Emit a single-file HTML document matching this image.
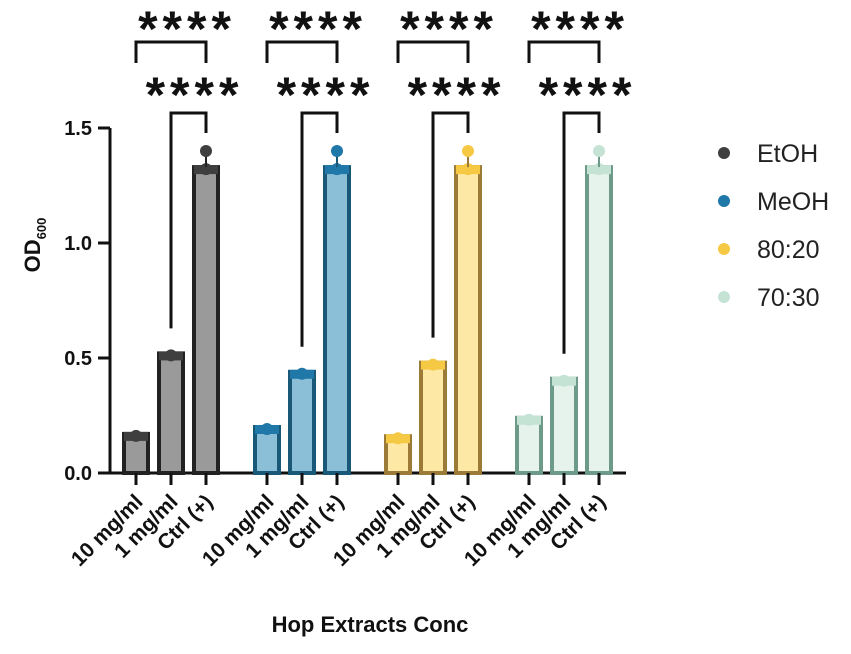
<!DOCTYPE html>
<html><head><meta charset="utf-8"><style>
body{margin:0;background:#fff;}
svg text{font-family:"Liberation Sans",Arial,sans-serif;}
</style></head><body>
<svg id="chart" width="851" height="649" viewBox="0 0 851 649" xmlns="http://www.w3.org/2000/svg"></svg>
<script>
const groups = ["EtOH","MeOH","80:20","70:30"];
const categories = ["10 mg/ml","1 mg/ml","Ctrl (+)"];
const etohValues = [0.17, 0.52, 1.33];
const meohValues = [0.20, 0.44, 1.33];
const v8020Values = [0.16, 0.48, 1.33];
const v7030Values = [0.24, 0.41, 1.33];
const ctrlPointTop = [1.40, 1.40, 1.40, 1.40];
const yTicks = [0, 0.5, 1.0, 1.5];
const yTickLabels = ["0.0","0.5","1.0","1.5"];
const sigLabels = ["****","****"];

const series = [etohValues, meohValues, v8020Values, v7030Values];
const styles = [
  {dot:"#3f3f3f", fill:"#9a9a9a", stroke:"#222"},
  {dot:"#1f78a8", fill:"#8bbfd8", stroke:"#1a5878"},
  {dot:"#f6c945", fill:"#fde8a6", stroke:"#9c7a38"},
  {dot:"#c5e3d5", fill:"#e5f3ec", stroke:"#6e9a8a"}
];
const svg = document.getElementById('chart');
const NS = "http://www.w3.org/2000/svg";
function el(tag, attrs, parent){const e=document.createElementNS(NS,tag);for(const k in attrs)e.setAttribute(k,attrs[k]);(parent||svg).appendChild(e);return e;}
const y0=473, yPerUnit=230;
function yScale(v){return y0 - v*yPerUnit;}
function xScale(g,c){return 136 + g*131 + c*35;}

let a=el('line',{x1:110,y1:yScale(1.5),x2:110,y2:y0,stroke:"#111","stroke-width":3});


a=el('line',{x1:110,y1:y0,x2:626,y2:y0,stroke:"#111","stroke-width":3});


yTicks.forEach((t,i)=>{
  const y=yScale(t);
  let l=el('line',{x1:98,y1:y,x2:110,y2:y,stroke:"#111","stroke-width":3});
  
  
  let tx=el('text',{x:92,y:y+7,"text-anchor":"end","font-size":20,"font-weight":"bold",fill:"#111"});
  tx.textContent=yTickLabels[i];
  
  
});
let yt=el('text',{transform:"translate(40,245) rotate(-90)","text-anchor":"middle","font-size":22,"font-weight":"bold",fill:"#111"});
yt.innerHTML='OD<tspan font-size="13" dy="6">600</tspan>';



series.forEach((vals,g)=>{
  const s=styles[g];
  vals.forEach((v,c)=>{
    const x=xScale(g,c), w=24;
    let r=el('rect',{x:x-w/2,y:yScale(v),width:w,height:y0-yScale(v),fill:s.fill,stroke:s.stroke,"stroke-width":4});
    
    
    let cap=el('rect',{x:x-w/2,y:yScale(v)-2,width:w,height:9,fill:s.dot});
    
    
    let d=el('circle',{cx:x,cy:yScale(v)+2,r:6,fill:s.dot});
    
    
    if(c===2){
      let eb=el('line',{x1:x,y1:yScale(ctrlPointTop[g]),x2:x,y2:yScale(v),stroke:s.stroke,"stroke-width":2});
      
      
      let p=el('circle',{cx:x,cy:yScale(ctrlPointTop[g]),r:6,fill:s.dot});
      
      
    }
    let tk=el('line',{x1:x,y1:y0,x2:x,y2:y0+12,stroke:"#111","stroke-width":3});
    
    
    let lt=el('text',{transform:`translate(${x+8},${y0+30}) rotate(-45)`,"text-anchor":"end","font-size":21,"font-weight":"bold",fill:"#111"});
    lt.textContent=categories[c];
    
    
  });
  const x0=xScale(g,0), x1=xScale(g,1), x2=xScale(g,2);
  let b1=el('polyline',{points:`${x0},63 ${x0},42 ${x2},42 ${x2},63`,fill:"none",stroke:"#111","stroke-width":3});
  
  
  let s1=el('text',{x:(x0+x2)/2+16,y:46,"text-anchor":"middle","font-size":50,"font-weight":"bold",fill:"#111","letter-spacing":"5"});
  s1.textContent=sigLabels[0];
  
  
  let b2=el('polyline',{points:`${x1},${yScale(vals[1])-25} ${x1},113 ${x2},113 ${x2},133`,fill:"none",stroke:"#111","stroke-width":3});
  
  
  let s2=el('text',{x:(x1+x2)/2+6,y:112,"text-anchor":"middle","font-size":50,"font-weight":"bold",fill:"#111","letter-spacing":"5"});
  s2.textContent=sigLabels[1];
  
  
  const ly=153+g*48;
  let ld=el('circle',{cx:724,cy:ly,r:6,fill:styles[g].dot});
  
  
  let lt=el('text',{x:757,y:ly+9,"font-size":25,fill:"#222"});
  lt.textContent=groups[g];
  
  
});
let xt=el('text',{x:370,y:632,"text-anchor":"middle","font-size":22,"font-weight":"bold",fill:"#111"});
xt.textContent="Hop Extracts Conc";


</script>
</body></html>
